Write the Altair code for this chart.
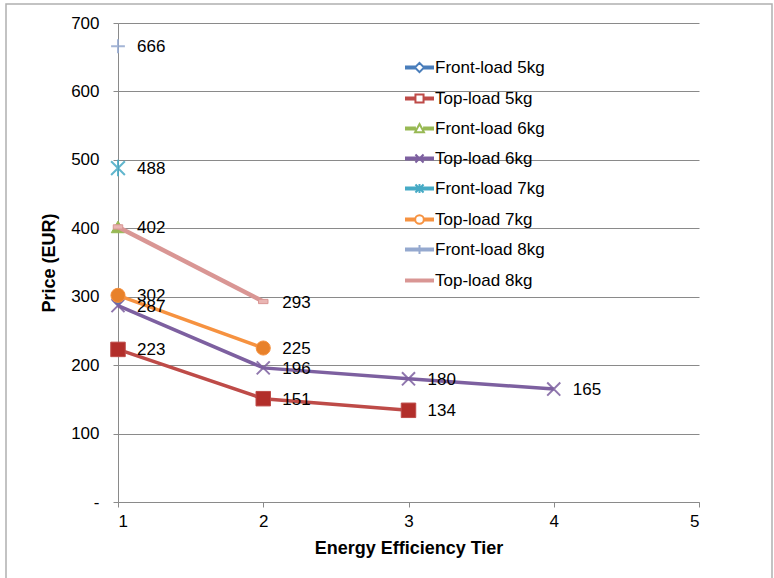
import altair as alt
import pandas as pd

series_names = ["Front-load 5kg", "Top-load 5kg", "Front-load 6kg", "Top-load 6kg",
                "Front-load 7kg", "Top-load 7kg", "Front-load 8kg", "Top-load 8kg"]
series_colors = ["#4A7EBB", "#BE4B48", "#98B954", "#7D60A0",
                 "#46AAC5", "#F69240", "#95A9CF", "#D99694"]
marker_fill = ["#4A7EBB", "#B22E2A", "#98B954", "#7D60A0",
               "#46AAC5", "#E8812A", "#95A9CF", "#E9B5B3"]

tiers = {
    "Front-load 5kg": [1],
    "Top-load 5kg": [1, 2, 3],
    "Front-load 6kg": [1],
    "Top-load 6kg": [1, 2, 3, 4],
    "Front-load 7kg": [1],
    "Top-load 7kg": [1, 2],
    "Front-load 8kg": [1],
    "Top-load 8kg": [1, 2],
}
prices = {
    "Front-load 5kg": [294],
    "Top-load 5kg": [223, 151, 134],
    "Front-load 6kg": [402],
    "Top-load 6kg": [287, 196, 180, 165],
    "Front-load 7kg": [488],
    "Top-load 7kg": [302, 225],
    "Front-load 8kg": [666],
    "Top-load 8kg": [402, 293],
}
# which data labels are visible in the reference
show_label = {
    "Front-load 5kg": [False],
    "Top-load 5kg": [True, True, True],
    "Front-load 6kg": [True],
    "Top-load 6kg": [True, True, True, True],
    "Front-load 7kg": [True],
    "Top-load 7kg": [True, True],
    "Front-load 8kg": [True],
    "Top-load 8kg": [False, True],
}

marker_shapes = {
    "Front-load 5kg": "diamond",
    "Top-load 5kg": "square",
    "Front-load 6kg": "triangle-up",
    "Top-load 6kg": "M-1,-1L1,1M-1,1L1,-1",
    "Front-load 7kg": "M-1,-1L1,1M-1,1L1,-1M0,-1.2L0,1.2",
    "Top-load 7kg": "circle",
    "Front-load 8kg": "M-1,0L1,0M0,-1L0,1",
    "Top-load 8kg": "M-1,-0.45H1V0.45H-1Z",
}
marker_sizes = {
    "Front-load 5kg": 120, "Top-load 5kg": 210, "Front-load 6kg": 180,
    "Top-load 6kg": 170, "Front-load 7kg": 190, "Top-load 7kg": 200,
    "Front-load 8kg": 190, "Top-load 8kg": 90,
}

# legend symbols: short line with a small marker, in a [-1,1] box
LINE_L = "M-1,-0.074H-0.34V0.074H-1Z"
LINE_R = "M0.34,-0.074H1V0.074H0.34Z"
LINE_FULL = "M-1,-0.074H1V0.074H-1Z"
legend_shapes = [
    LINE_L + LINE_R + "M0,-0.34L0.34,0L0,0.34L-0.34,0Z",
    LINE_L + LINE_R + "M-0.3,-0.3H0.3V0.3H-0.3Z",
    LINE_L + LINE_R + "M0,-0.33L0.33,0.28H-0.33Z",
    LINE_FULL + "M-0.3,-0.3L0.3,0.3M-0.3,0.3L0.3,-0.3",
    LINE_FULL + "M-0.3,-0.3L0.3,0.3M-0.3,0.3L0.3,-0.3M0,-0.34L0,0.34",
    LINE_L + LINE_R + "M0.32,0A0.32,0.32 0 1,1 -0.32,0A0.32,0.32 0 1,1 0.32,0Z",
    LINE_FULL + "M0,-0.34L0,0.34",
    LINE_FULL,
]

rows = []
for s in series_names:
    for t, p, lab in zip(tiers[s], prices[s], show_label[s]):
        rows.append({"series": s, "tier": t, "price": p, "label": str(p) if lab else ""})
df = pd.DataFrame(rows)

FONT = "Liberation Sans"
xscale = alt.Scale(domain=[1, 5], nice=False, zero=False)
yscale = alt.Scale(domain=[0, 700], nice=False)

x_enc = alt.X("tier:Q", scale=xscale, title="Energy Efficiency Tier",
              axis=alt.Axis(values=[1, 2, 3, 4, 5], format="d", grid=False,
                            domainColor="#8a8a8a", tickColor="#8a8a8a", tickSize=5,
                            labelFont=FONT, labelFontSize=17, labelColor="#000",
                            labelPadding=6, titleFont=FONT, titleFontSize=18,
                            titleFontWeight="bold", titleColor="#000", titlePadding=10))
y_enc = alt.Y("price:Q", scale=yscale, title="Price (EUR)",
              axis=alt.Axis(values=list(range(0, 701, 100)),
                            labelExpr="datum.value == 0 ? '-' : datum.label",
                            grid=True, gridColor="#8a8a8a", gridWidth=1,
                            domainColor="#8a8a8a", tickColor="#8a8a8a", tickSize=5,
                            labelFont=FONT, labelFontSize=17, labelColor="#000",
                            labelPadding=14, titleFont=FONT, titleFontSize=18,
                            titleFontWeight="bold", titleColor="#000", titlePadding=12))

base = alt.Chart(df)

frame = alt.Chart(pd.DataFrame({"k": [0]})).mark_rect(
    fill=None, stroke="#b0b0b0", strokeWidth=1.5
).encode(x=alt.value(-112), x2=alt.value(654), y=alt.value(-19), y2=alt.value(560))

legend_cfg = alt.Legend(
    title=None, orient="none", legendX=287, legendY=30,
    symbolSize=729, symbolFillColor="#ffffff", symbolStrokeWidth=2, symbolOpacity=1,
    labelFont=FONT, labelFontSize=17, labelColor="#000",
    labelOffset=1, rowPadding=7,
)
# legend-only layer: draws no marks, its scales carry the legend
legend_layer = base.transform_filter("false").mark_point(filled=False).encode(
    x=x_enc, y=y_enc,
    color=alt.Color("series:N", scale=alt.Scale(domain=series_names, range=series_colors),
                    sort=series_names, legend=legend_cfg),
    shape=alt.Shape("series:N", scale=alt.Scale(domain=series_names, range=legend_shapes),
                    sort=series_names, legend=legend_cfg),
)

layers = [frame, legend_layer]
for i, s in enumerate(series_names):
    sub = base.transform_filter(alt.datum.series == s)
    width = 4.5 if s == "Top-load 8kg" else 3.5
    line = sub.mark_line(strokeWidth=width, color=series_colors[i]).encode(x="tier:Q", y="price:Q")
    shape = marker_shapes[s]
    is_open = shape.startswith("M-1,-1") or shape.startswith("M-1,0L")
    if is_open:
        pts = sub.mark_point(shape=shape, size=marker_sizes[s], filled=False, opacity=0.85,
                             color=series_colors[i], strokeWidth=2).encode(x="tier:Q", y="price:Q")
    else:
        pts = sub.mark_point(shape=shape, size=marker_sizes[s], filled=True, opacity=1,
                             color=marker_fill[i], stroke=series_colors[i],
                             strokeWidth=1).encode(x="tier:Q", y="price:Q")
    layers += [line, pts]

labels = base.mark_text(align="left", baseline="middle", dx=19, dy=1, font=FONT,
                        fontSize=17, color="#000").encode(x="tier:Q", y="price:Q", text="label:N")
layers.append(labels)

chart = alt.layer(*layers).properties(
    width=581, height=479,
    autosize=alt.AutoSizeParams(type="none"),
    padding={"left": 118, "top": 23, "right": 75, "bottom": 76},
).configure_view(stroke=None)

chart.save("out.html", embed_options={"renderer": "svg", "actions": False})
